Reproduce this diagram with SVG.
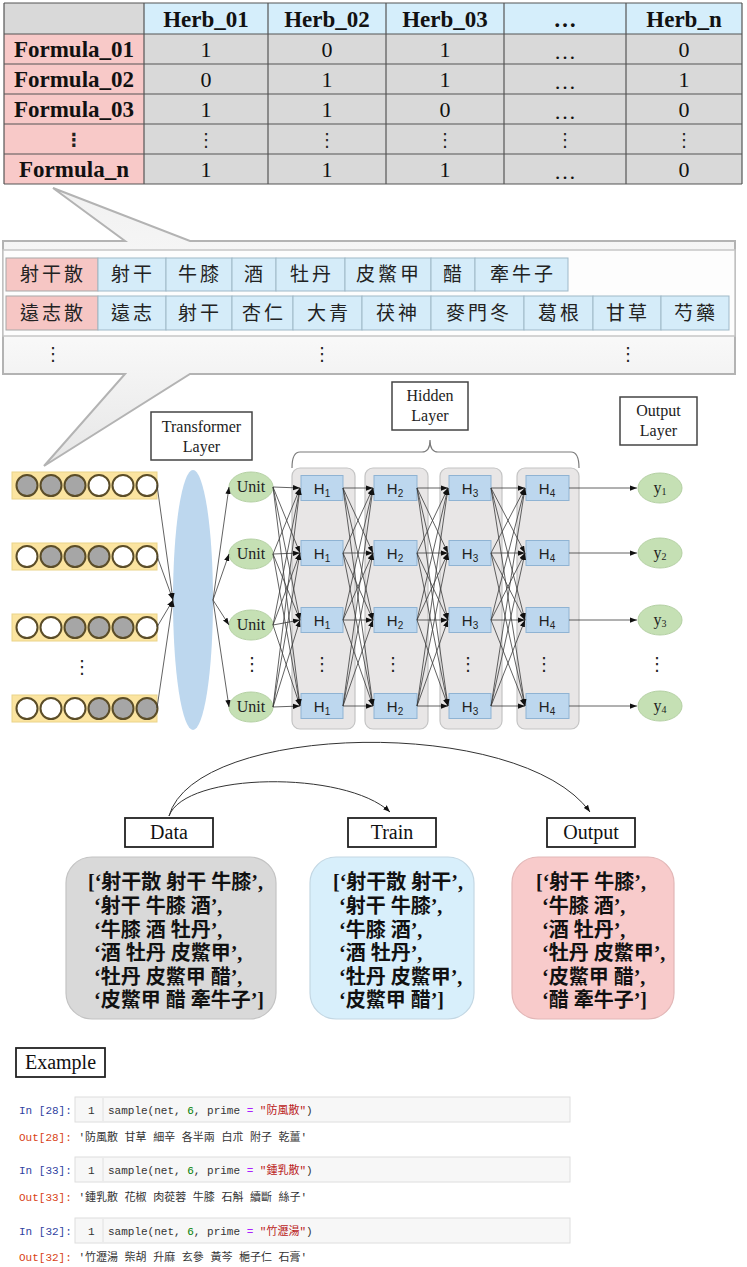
<svg xmlns="http://www.w3.org/2000/svg" width="747" height="1267" viewBox="0 0 747 1267">
<defs>
<style>
.tb{font-family:"Liberation Serif",serif;font-weight:bold;font-size:23px;fill:#111;text-anchor:middle}
.tn{font-family:"Liberation Serif",serif;font-size:22px;fill:#111;text-anchor:middle}
.dots{font-family:"DejaVu Sans",sans-serif;font-size:18px;fill:#222;text-anchor:middle}
.cg{stroke:#555;stroke-width:1.2}
.cj{font-family:"Noto Sans CJK TC","Noto Sans CJK SC",sans-serif;font-size:19px;fill:#222;text-anchor:middle;letter-spacing:3px}
.pk{fill:#f6c6c4;stroke:#a8a8a8;stroke-width:1}
.bl{fill:#d5ecf9;stroke:#9fb9c8;stroke-width:1}
.lbl{font-family:"Liberation Serif",serif;font-size:16px;fill:#222;text-anchor:middle}
.lbx{fill:#fff;stroke:#444;stroke-width:1.5}
.bar{fill:#fbe4a0;stroke:#ead48a;stroke-width:1}
.cf{fill:#a6a6a6;stroke:#5b4d28;stroke-width:2}
.cw{fill:#fff;stroke:#5b4d28;stroke-width:2}
.unit{fill:#c5e0b4;stroke:#b4d0a3;stroke-width:1}
.col{fill:#e8e6e6;stroke:#c4c4c4;stroke-width:1.2}
.hb{fill:#bdd7ee;stroke:#8fb3d3;stroke-width:1}
.ht{font-family:"Liberation Sans",sans-serif;font-size:15px;fill:#222;text-anchor:middle}
.c line{stroke:#3a3a3a;stroke-width:0.8;marker-end:url(#ah)}
.big{font-family:"Liberation Serif",serif;font-size:20px;fill:#111;text-anchor:middle}
.bx{fill:#fff;stroke:#222;stroke-width:1.8}
.lst{font-family:"Liberation Serif","Noto Sans CJK TC","Noto Sans CJK SC",serif;font-size:20px;font-weight:bold;fill:#111}
.mono{font-family:"Liberation Mono","DejaVu Sans Mono","Noto Sans CJK TC",monospace;font-size:11px;fill:#333}
.cell{fill:#f7f7f7;stroke:#dedede;stroke-width:1}
.inl{fill:#303f9f}
.outl{fill:#d84315}
</style>
<marker id="ah" viewBox="0 0 8 6" refX="8" refY="3" markerWidth="7" markerHeight="5.5" markerUnits="userSpaceOnUse" orient="auto">
<path d="M0,0 L8,3 L0,6 z" fill="#111"/>
</marker>
<linearGradient id="callg" x1="0" y1="0" x2="0" y2="1">
<stop offset="0" stop-color="#f1f1f1"/>
<stop offset="0.5" stop-color="#fafafa"/>
<stop offset="1" stop-color="#e6e6e6"/>
</linearGradient>
</defs>
<rect width="747" height="1267" fill="#fff"/>

<!-- Top matrix table -->
<g id="matrix">
<rect x="4" y="3" width="140" height="31" fill="#d9d9d9"/>
<rect x="144" y="3" width="598" height="31" fill="#d5eefb"/>
<rect x="4" y="34" width="140" height="150" fill="#f8c9c8"/>
<rect x="144" y="34" width="598" height="150" fill="#d9d9d9"/>
<g class="cg">
<line x1="4" y1="3" x2="742" y2="3"/>
<line x1="4" y1="34" x2="742" y2="34"/>
<line x1="4" y1="64" x2="742" y2="64"/>
<line x1="4" y1="94" x2="742" y2="94"/>
<line x1="4" y1="124" x2="742" y2="124"/>
<line x1="4" y1="154" x2="742" y2="154"/>
<line x1="4" y1="184" x2="742" y2="184"/>
<line x1="4" y1="3" x2="4" y2="184"/>
<line x1="144" y1="3" x2="144" y2="184"/>
<line x1="268" y1="3" x2="268" y2="184"/>
<line x1="386" y1="3" x2="386" y2="184"/>
<line x1="504" y1="3" x2="504" y2="184"/>
<line x1="626" y1="3" x2="626" y2="184"/>
<line x1="742" y1="3" x2="742" y2="184"/>
</g>
<text class="tb" x="206" y="27">Herb_01</text>
<text class="tb" x="327" y="27">Herb_02</text>
<text class="tb" x="445" y="27">Herb_03</text>
<text class="tb" x="565" y="27">…</text>
<text class="tb" x="684" y="27">Herb_n</text>
<text class="tb" x="74" y="57">Formula_01</text>
<text class="tb" x="74" y="87">Formula_02</text>
<text class="tb" x="74" y="117">Formula_03</text>
<text class="dots" x="74" y="146" style="font-weight:bold">⋮</text>
<text class="tb" x="74" y="177">Formula_n</text>
<g class="tn">
<text x="206" y="57">1</text><text x="327" y="57">0</text><text x="445" y="57">1</text><text x="565" y="59">…</text><text x="684" y="57">0</text>
<text x="206" y="87">0</text><text x="327" y="87">1</text><text x="445" y="87">1</text><text x="565" y="89">…</text><text x="684" y="87">1</text>
<text x="206" y="117">1</text><text x="327" y="117">1</text><text x="445" y="117">0</text><text x="565" y="119">…</text><text x="684" y="117">0</text>
<text x="206" y="177">1</text><text x="327" y="177">1</text><text x="445" y="177">1</text><text x="565" y="179">…</text><text x="684" y="177">0</text>
</g>
<g class="dots">
<text x="206" y="146">⋮</text><text x="327" y="146">⋮</text><text x="445" y="146">⋮</text><text x="565" y="146">⋮</text><text x="684" y="146">⋮</text>
</g>
</g>

<!-- Callout with herb sequences -->
<g id="callout">
<path d="M3,241 L125,241 L53,188 L190,241 L735,241 L735,374 L190,374 L44,466 L125,374 L3,374 Z" fill="url(#callg)" stroke="#b3b3b3" stroke-width="2" stroke-linejoin="miter"/>
<rect x="3" y="250" width="732" height="86" fill="#fdfdfd" stroke="#c6c6c6" stroke-width="1.5"/>
<rect class="pk" x="6" y="258" width="92" height="33"/>
<rect class="bl" x="98" y="258" width="68" height="33"/>
<rect class="bl" x="166" y="258" width="66" height="33"/>
<rect class="bl" x="232" y="258" width="44" height="33"/>
<rect class="bl" x="276" y="258" width="69" height="33"/>
<rect class="bl" x="345" y="258" width="86" height="33"/>
<rect class="bl" x="431" y="258" width="44" height="33"/>
<rect class="bl" x="475" y="258" width="93" height="33"/>
<rect class="pk" x="6" y="296" width="92" height="34"/>
<rect class="bl" x="98" y="296" width="68" height="34"/>
<rect class="bl" x="166" y="296" width="66" height="34"/>
<rect class="bl" x="232" y="296" width="61" height="34"/>
<rect class="bl" x="293" y="296" width="69" height="34"/>
<rect class="bl" x="362" y="296" width="69" height="34"/>
<rect class="bl" x="431" y="296" width="93" height="34"/>
<rect class="bl" x="524" y="296" width="69" height="34"/>
<rect class="bl" x="593" y="296" width="68" height="34"/>
<rect class="bl" x="661" y="296" width="68" height="34"/>
<text class="cj" x="53" y="281">射干散</text>
<text class="cj" x="133" y="281">射干</text>
<text class="cj" x="200" y="281">牛膝</text>
<text class="cj" x="255" y="281">酒</text>
<text class="cj" x="312" y="281">牡丹</text>
<text class="cj" x="389" y="281">皮鱉甲</text>
<text class="cj" x="454" y="281">醋</text>
<text class="cj" x="523" y="281">牽牛子</text>
<text class="cj" x="53" y="320">遠志散</text>
<text class="cj" x="133" y="320">遠志</text>
<text class="cj" x="200" y="320">射干</text>
<text class="cj" x="264" y="320">杏仁</text>
<text class="cj" x="329" y="320">大青</text>
<text class="cj" x="398" y="320">茯神</text>
<text class="cj" x="479" y="320">麥門冬</text>
<text class="cj" x="560" y="320">葛根</text>
<text class="cj" x="628" y="320">甘草</text>
<text class="cj" x="696" y="320">芍藥</text>
<text class="dots" x="53" y="360">⋮</text>
<text class="dots" x="322" y="360">⋮</text>
<text class="dots" x="628" y="360">⋮</text>
</g>

<!-- Inputs -->
<g id="input1">
<rect class="bar" x="12" y="472" width="145" height="27"/>
<circle class="cf" cx="27" cy="485.5" r="10.5"/><circle class="cf" cx="51" cy="485.5" r="10.5"/><circle class="cf" cx="75" cy="485.5" r="10.5"/><circle class="cw" cx="99" cy="485.5" r="10.5"/><circle class="cw" cx="123" cy="485.5" r="10.5"/><circle class="cw" cx="147" cy="485.5" r="10.5"/>
</g>
<g id="input2">
<rect class="bar" x="12" y="543" width="145" height="27"/>
<circle class="cw" cx="27" cy="556.5" r="10.5"/><circle class="cf" cx="51" cy="556.5" r="10.5"/><circle class="cf" cx="75" cy="556.5" r="10.5"/><circle class="cf" cx="99" cy="556.5" r="10.5"/><circle class="cw" cx="123" cy="556.5" r="10.5"/><circle class="cw" cx="147" cy="556.5" r="10.5"/>
</g>
<g id="input3">
<rect class="bar" x="12" y="614" width="145" height="27"/>
<circle class="cw" cx="27" cy="627.5" r="10.5"/><circle class="cw" cx="51" cy="627.5" r="10.5"/><circle class="cf" cx="75" cy="627.5" r="10.5"/><circle class="cf" cx="99" cy="627.5" r="10.5"/><circle class="cf" cx="123" cy="627.5" r="10.5"/><circle class="cw" cx="147" cy="627.5" r="10.5"/>
</g>
<text class="dots" x="82" y="673">⋮</text>
<g id="input4">
<rect class="bar" x="12" y="695" width="145" height="27"/>
<circle class="cw" cx="27" cy="708.5" r="10.5"/><circle class="cw" cx="51" cy="708.5" r="10.5"/><circle class="cw" cx="75" cy="708.5" r="10.5"/><circle class="cf" cx="99" cy="708.5" r="10.5"/><circle class="cf" cx="123" cy="708.5" r="10.5"/><circle class="cf" cx="147" cy="708.5" r="10.5"/>
</g>

<!-- Transformer -->
<g id="transformer">
<rect class="lbx" x="151" y="412" width="101" height="48"/>
<text class="lbl" x="201.5" y="432">Transformer</text>
<text class="lbl" x="201.5" y="452">Layer</text>
<ellipse cx="193" cy="600" rx="20" ry="130" fill="#bdd7ee"/>
</g>

<!-- Units -->
<g id="units">
<ellipse class="unit" cx="251" cy="487" rx="22" ry="15"/><text class="lbl" x="251" y="492">Unit</text>
<ellipse class="unit" cx="251" cy="554" rx="22" ry="15"/><text class="lbl" x="251" y="559">Unit</text>
<ellipse class="unit" cx="251" cy="625" rx="22" ry="15"/><text class="lbl" x="251" y="630">Unit</text>
<text class="dots" x="252" y="670">⋮</text>
<ellipse class="unit" cx="251" cy="707" rx="22" ry="15"/><text class="lbl" x="251" y="712">Unit</text>
</g>

<!-- Hidden layer -->
<g id="hidden-label">
<rect class="lbx" x="392" y="382" width="76" height="48"/>
<text class="lbl" x="430" y="401">Hidden</text>
<text class="lbl" x="430" y="421">Layer</text>
<path d="M292,468 Q292,452 300,452 L422,452 Q430,452 430,440 Q430,452 438,452 L571,452 Q579,452 579,468" fill="none" stroke="#7a7a7a" stroke-width="1.2"/>
</g>
<g id="h1col">
<rect class="col" x="292" y="468" width="63" height="261" rx="8"/>
<rect class="hb" x="301" y="475.5" width="42" height="25"/><text class="ht" x="322" y="494">H<tspan font-size="10" dy="3">1</tspan></text>
<rect class="hb" x="301" y="540.5" width="42" height="25"/><text class="ht" x="322" y="559">H<tspan font-size="10" dy="3">1</tspan></text>
<rect class="hb" x="301" y="607.5" width="42" height="25"/><text class="ht" x="322" y="626">H<tspan font-size="10" dy="3">1</tspan></text>
<text class="dots" x="322" y="670">⋮</text>
<rect class="hb" x="301" y="693.5" width="42" height="25"/><text class="ht" x="322" y="712">H<tspan font-size="10" dy="3">1</tspan></text>
</g>
<g id="h2col">
<rect class="col" x="365" y="468" width="63" height="261" rx="8"/>
<rect class="hb" x="374" y="475.5" width="43" height="25"/><text class="ht" x="395" y="494">H<tspan font-size="10" dy="3">2</tspan></text>
<rect class="hb" x="374" y="540.5" width="43" height="25"/><text class="ht" x="395" y="559">H<tspan font-size="10" dy="3">2</tspan></text>
<rect class="hb" x="374" y="607.5" width="43" height="25"/><text class="ht" x="395" y="626">H<tspan font-size="10" dy="3">2</tspan></text>
<text class="dots" x="393" y="670">⋮</text>
<rect class="hb" x="374" y="693.5" width="43" height="25"/><text class="ht" x="395" y="712">H<tspan font-size="10" dy="3">2</tspan></text>
</g>
<g id="h3col">
<rect class="col" x="440" y="468" width="62" height="261" rx="8"/>
<rect class="hb" x="449" y="475.5" width="42" height="25"/><text class="ht" x="470" y="494">H<tspan font-size="10" dy="3">3</tspan></text>
<rect class="hb" x="449" y="540.5" width="42" height="25"/><text class="ht" x="470" y="559">H<tspan font-size="10" dy="3">3</tspan></text>
<rect class="hb" x="449" y="607.5" width="42" height="25"/><text class="ht" x="470" y="626">H<tspan font-size="10" dy="3">3</tspan></text>
<text class="dots" x="468" y="670">⋮</text>
<rect class="hb" x="449" y="693.5" width="42" height="25"/><text class="ht" x="470" y="712">H<tspan font-size="10" dy="3">3</tspan></text>
</g>
<g id="h4col">
<rect class="col" x="517" y="468" width="62" height="261" rx="8"/>
<rect class="hb" x="526" y="475.5" width="43" height="25"/><text class="ht" x="547" y="494">H<tspan font-size="10" dy="3">4</tspan></text>
<rect class="hb" x="526" y="540.5" width="43" height="25"/><text class="ht" x="547" y="559">H<tspan font-size="10" dy="3">4</tspan></text>
<rect class="hb" x="526" y="607.5" width="43" height="25"/><text class="ht" x="547" y="626">H<tspan font-size="10" dy="3">4</tspan></text>
<text class="dots" x="544" y="670">⋮</text>
<rect class="hb" x="526" y="693.5" width="43" height="25"/><text class="ht" x="547" y="712">H<tspan font-size="10" dy="3">4</tspan></text>
</g>

<!-- Output layer -->
<g id="output-layer">
<rect class="lbx" x="620" y="397" width="77" height="48"/>
<text class="lbl" x="658.5" y="416">Output</text>
<text class="lbl" x="658.5" y="436">Layer</text>
<ellipse class="unit" cx="660" cy="488" rx="22" ry="15"/><text class="lbl" x="660" y="493">y<tspan font-size="10" dy="2">1</tspan></text>
<ellipse class="unit" cx="660" cy="553" rx="22" ry="15"/><text class="lbl" x="660" y="558">y<tspan font-size="10" dy="2">2</tspan></text>
<ellipse class="unit" cx="660" cy="620" rx="22" ry="15"/><text class="lbl" x="660" y="625">y<tspan font-size="10" dy="2">3</tspan></text>
<text class="dots" x="657" y="670">⋮</text>
<ellipse class="unit" cx="660" cy="706" rx="22" ry="15"/><text class="lbl" x="660" y="711">y<tspan font-size="10" dy="2">4</tspan></text>
</g>

<!-- Connectors -->
<g id="connectors" class="c">
<line x1="157" y1="485" x2="173" y2="600"/>
<line x1="157" y1="556" x2="173" y2="600"/>
<line x1="157" y1="627" x2="173" y2="600"/>
<line x1="157" y1="708" x2="173" y2="600"/>
<line x1="213" y1="600" x2="229" y2="487"/>
<line x1="213" y1="600" x2="229" y2="554"/>
<line x1="213" y1="600" x2="229" y2="625"/>
<line x1="213" y1="600" x2="229" y2="707"/>
<line x1="273" y1="487" x2="300" y2="488"/><line x1="273" y1="487" x2="300" y2="553"/><line x1="273" y1="487" x2="300" y2="620"/><line x1="273" y1="487" x2="300" y2="706"/>
<line x1="273" y1="554" x2="300" y2="488"/><line x1="273" y1="554" x2="300" y2="553"/><line x1="273" y1="554" x2="300" y2="620"/><line x1="273" y1="554" x2="300" y2="706"/>
<line x1="273" y1="625" x2="300" y2="488"/><line x1="273" y1="625" x2="300" y2="553"/><line x1="273" y1="625" x2="300" y2="620"/><line x1="273" y1="625" x2="300" y2="706"/>
<line x1="273" y1="707" x2="300" y2="488"/><line x1="273" y1="707" x2="300" y2="553"/><line x1="273" y1="707" x2="300" y2="620"/><line x1="273" y1="707" x2="300" y2="706"/>
<line x1="343" y1="488" x2="373" y2="488"/><line x1="343" y1="488" x2="373" y2="553"/><line x1="343" y1="488" x2="373" y2="620"/><line x1="343" y1="488" x2="373" y2="706"/>
<line x1="343" y1="553" x2="373" y2="488"/><line x1="343" y1="553" x2="373" y2="553"/><line x1="343" y1="553" x2="373" y2="620"/><line x1="343" y1="553" x2="373" y2="706"/>
<line x1="343" y1="620" x2="373" y2="488"/><line x1="343" y1="620" x2="373" y2="553"/><line x1="343" y1="620" x2="373" y2="620"/><line x1="343" y1="620" x2="373" y2="706"/>
<line x1="343" y1="706" x2="373" y2="488"/><line x1="343" y1="706" x2="373" y2="553"/><line x1="343" y1="706" x2="373" y2="620"/><line x1="343" y1="706" x2="373" y2="706"/>
<line x1="417" y1="488" x2="448" y2="488"/><line x1="417" y1="488" x2="448" y2="553"/><line x1="417" y1="488" x2="448" y2="620"/><line x1="417" y1="488" x2="448" y2="706"/>
<line x1="417" y1="553" x2="448" y2="488"/><line x1="417" y1="553" x2="448" y2="553"/><line x1="417" y1="553" x2="448" y2="620"/><line x1="417" y1="553" x2="448" y2="706"/>
<line x1="417" y1="620" x2="448" y2="488"/><line x1="417" y1="620" x2="448" y2="553"/><line x1="417" y1="620" x2="448" y2="620"/><line x1="417" y1="620" x2="448" y2="706"/>
<line x1="417" y1="706" x2="448" y2="488"/><line x1="417" y1="706" x2="448" y2="553"/><line x1="417" y1="706" x2="448" y2="620"/><line x1="417" y1="706" x2="448" y2="706"/>
<line x1="491" y1="488" x2="525" y2="488"/><line x1="491" y1="488" x2="525" y2="553"/><line x1="491" y1="488" x2="525" y2="620"/><line x1="491" y1="488" x2="525" y2="706"/>
<line x1="491" y1="553" x2="525" y2="488"/><line x1="491" y1="553" x2="525" y2="553"/><line x1="491" y1="553" x2="525" y2="620"/><line x1="491" y1="553" x2="525" y2="706"/>
<line x1="491" y1="620" x2="525" y2="488"/><line x1="491" y1="620" x2="525" y2="553"/><line x1="491" y1="620" x2="525" y2="620"/><line x1="491" y1="620" x2="525" y2="706"/>
<line x1="491" y1="706" x2="525" y2="488"/><line x1="491" y1="706" x2="525" y2="553"/><line x1="491" y1="706" x2="525" y2="620"/><line x1="491" y1="706" x2="525" y2="706"/>
<line x1="569" y1="488" x2="637" y2="488"/>
<line x1="569" y1="553" x2="637" y2="553"/>
<line x1="569" y1="620" x2="637" y2="620"/>
<line x1="569" y1="706" x2="637" y2="706"/>
<path d="M169,816 C185,772 345,770 390,812" fill="none" stroke="#333" stroke-width="1" marker-end="url(#ah)"/>
<path d="M169,816 C195,722 520,715 590,812" fill="none" stroke="#333" stroke-width="1" marker-end="url(#ah)"/>
</g>

<!-- Data / Train / Output -->
<g id="data">
<rect class="bx" x="125" y="818" width="88" height="29"/>
<text class="big" x="169" y="839">Data</text>
<rect x="66" y="857" width="210" height="162" rx="26" fill="#d9d9d9" stroke="#c3c3c3" stroke-width="1.2"/>
<text class="lst" x="88" y="889">[‘射干散 射干 牛膝’,</text>
<text class="lst" x="94" y="913">‘射干 牛膝 酒’,</text>
<text class="lst" x="94" y="937">‘牛膝 酒 牡丹’,</text>
<text class="lst" x="94" y="960">‘酒 牡丹 皮鱉甲’,</text>
<text class="lst" x="94" y="984">‘牡丹 皮鱉甲 醋’,</text>
<text class="lst" x="94" y="1007">‘皮鱉甲 醋 牽牛子’]</text>
</g>
<g id="train">
<rect class="bx" x="348" y="818" width="88" height="29"/>
<text class="big" x="392" y="839">Train</text>
<rect x="310" y="857" width="164" height="162" rx="26" fill="#d8effb" stroke="#c3d7e3" stroke-width="1.2"/>
<text class="lst" x="333" y="889">[‘射干散 射干’,</text>
<text class="lst" x="339" y="913">‘射干 牛膝’,</text>
<text class="lst" x="339" y="937">‘牛膝 酒’,</text>
<text class="lst" x="339" y="960">‘酒 牡丹’,</text>
<text class="lst" x="339" y="984">‘牡丹 皮鱉甲’,</text>
<text class="lst" x="339" y="1007">‘皮鱉甲 醋’]</text>
</g>
<g id="output">
<rect class="bx" x="547" y="818" width="88" height="29"/>
<text class="big" x="591" y="839">Output</text>
<rect x="512" y="857" width="162" height="162" rx="26" fill="#f8cbcb" stroke="#e2b7b7" stroke-width="1.2"/>
<text class="lst" x="536" y="889">[‘射干 牛膝’,</text>
<text class="lst" x="542" y="913">‘牛膝 酒’,</text>
<text class="lst" x="542" y="937">‘酒 牡丹’,</text>
<text class="lst" x="542" y="960">‘牡丹 皮鱉甲’,</text>
<text class="lst" x="542" y="984">‘皮鱉甲 醋’,</text>
<text class="lst" x="542" y="1007">‘醋 牽牛子’]</text>
</g>

<!-- Example -->
<g id="example">
<rect class="bx" x="16" y="1048" width="89" height="29"/>
<text class="big" x="60.5" y="1069">Example</text>
<rect class="cell" x="75" y="1097" width="495" height="25"/>
<line x1="103" y1="1098" x2="103" y2="1121" stroke="#e0e0e0"/>
<text class="mono" x="19" y="1114"><tspan class="inl">In [28]:</tspan></text>
<text class="mono" x="88" y="1114" fill="#999">1</text>
<text class="mono" x="108" y="1114">sample(net, <tspan fill="#008000">6</tspan>, prime <tspan fill="#aa22ff">=</tspan> <tspan fill="#ba2121">"防風散"</tspan>)</text>
<text class="mono" x="19" y="1141"><tspan class="outl">Out[28]:</tspan> '防風散 甘草 細辛 各半兩 白朮 附子 乾薑'</text>
<rect class="cell" x="75" y="1157" width="495" height="25"/>
<line x1="103" y1="1158" x2="103" y2="1181" stroke="#e0e0e0"/>
<text class="mono" x="19" y="1174"><tspan class="inl">In [33]:</tspan></text>
<text class="mono" x="88" y="1174" fill="#999">1</text>
<text class="mono" x="108" y="1174">sample(net, <tspan fill="#008000">6</tspan>, prime <tspan fill="#aa22ff">=</tspan> <tspan fill="#ba2121">"鍾乳散"</tspan>)</text>
<text class="mono" x="19" y="1201"><tspan class="outl">Out[33]:</tspan> '鍾乳散 花椒 肉蓯蓉 牛膝 石斛 續斷 絲子'</text>
<rect class="cell" x="75" y="1218" width="495" height="25"/>
<line x1="103" y1="1219" x2="103" y2="1242" stroke="#e0e0e0"/>
<text class="mono" x="19" y="1235"><tspan class="inl">In [32]:</tspan></text>
<text class="mono" x="88" y="1235" fill="#999">1</text>
<text class="mono" x="108" y="1235">sample(net, <tspan fill="#008000">6</tspan>, prime <tspan fill="#aa22ff">=</tspan> <tspan fill="#ba2121">"竹瀝湯"</tspan>)</text>
<text class="mono" x="19" y="1261"><tspan class="outl">Out[32]:</tspan> '竹瀝湯 柴胡 升麻 玄參 黃芩 梔子仁 石膏'</text>
</g>
</svg>
